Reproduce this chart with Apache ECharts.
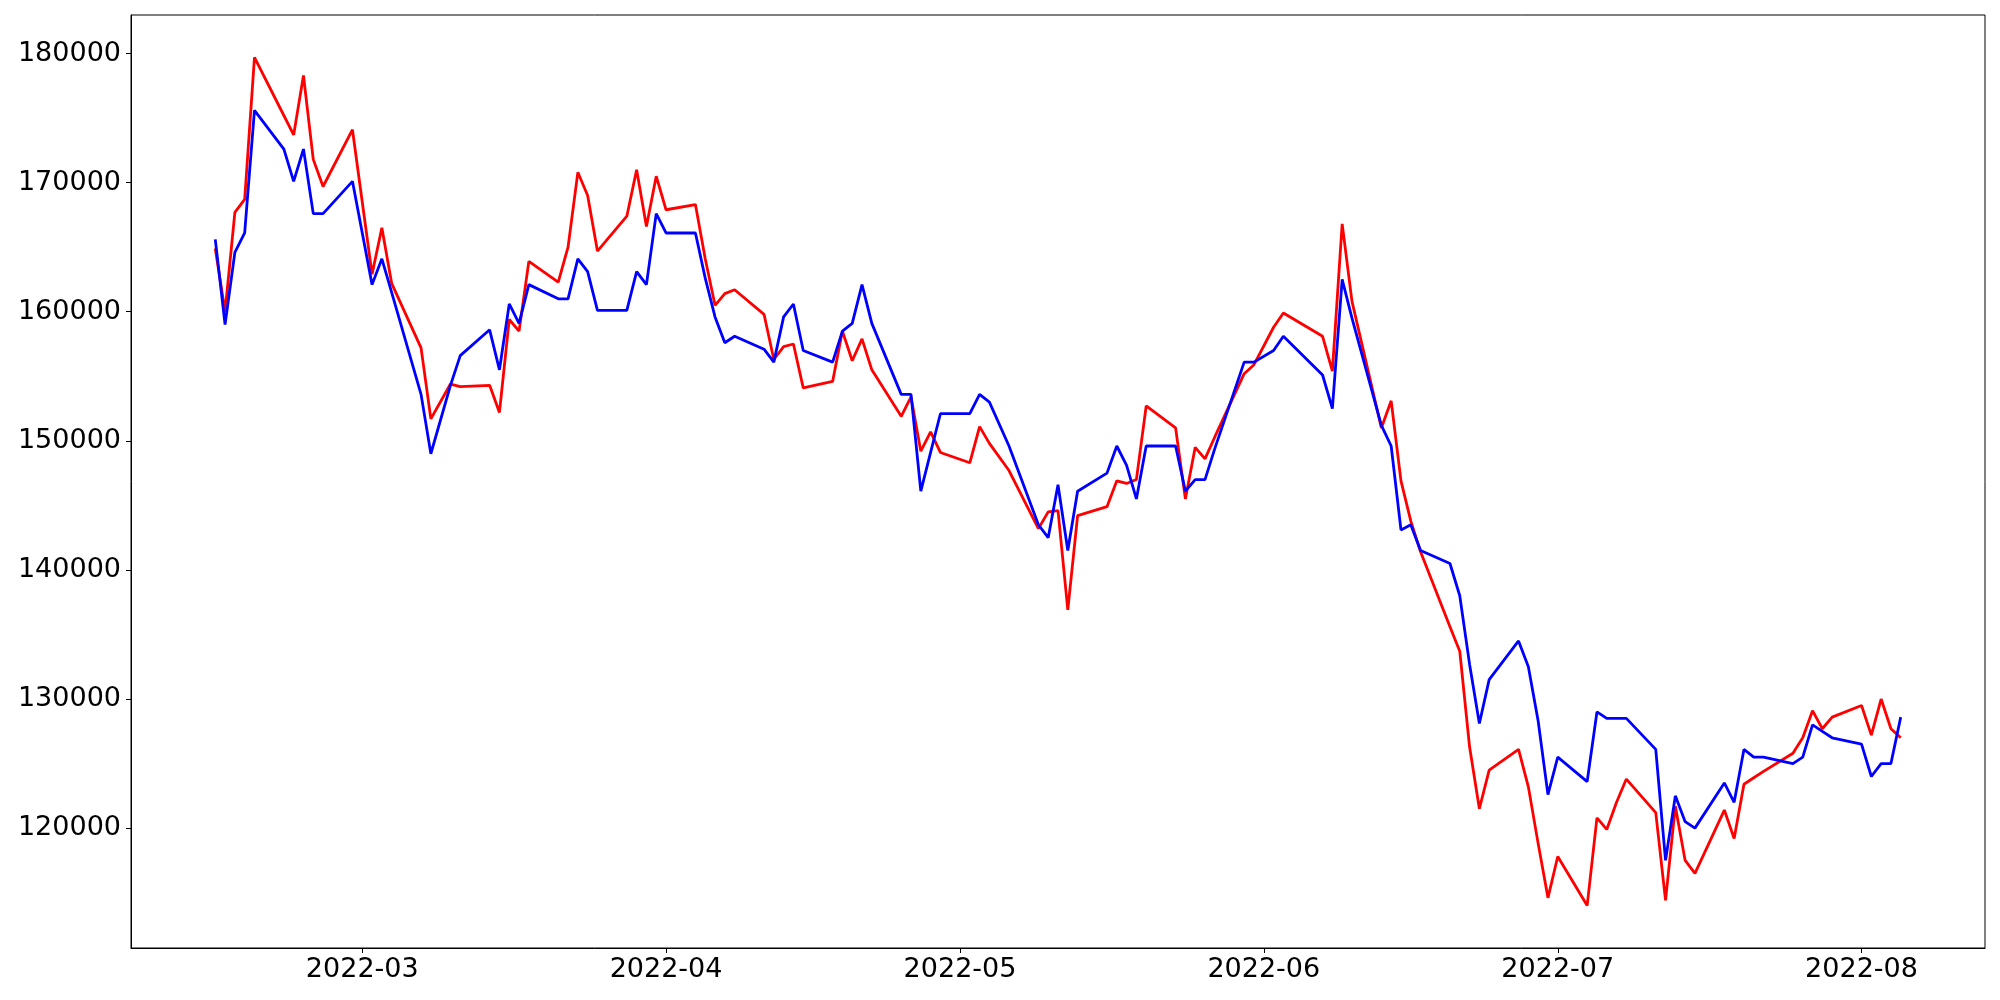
<!DOCTYPE html>
<html><head><meta charset="utf-8">
<script src="https://cdn.jsdelivr.net/npm/echarts@6/dist/echarts.min.js"></script>
<style>html,body{margin:0;padding:0;background:#fff}#c{width:2000px;height:1000px}</style>
</head><body><div id="c"></div>
<script>
const dates = [
'2022-02-14','2022-02-15','2022-02-16','2022-02-17','2022-02-18','2022-02-21','2022-02-22','2022-02-23','2022-02-24','2022-02-25','2022-02-28',
'2022-03-02','2022-03-03','2022-03-04','2022-03-07','2022-03-08','2022-03-10','2022-03-11','2022-03-14','2022-03-15','2022-03-16','2022-03-17','2022-03-18',
'2022-03-21','2022-03-22','2022-03-23','2022-03-24','2022-03-25','2022-03-28','2022-03-29','2022-03-30','2022-03-31',
'2022-04-01','2022-04-04','2022-04-05','2022-04-06','2022-04-07','2022-04-08','2022-04-11','2022-04-12','2022-04-13','2022-04-14','2022-04-15',
'2022-04-18','2022-04-19','2022-04-20','2022-04-21','2022-04-22','2022-04-25','2022-04-26','2022-04-27','2022-04-28','2022-04-29',
'2022-05-02','2022-05-03','2022-05-04','2022-05-06','2022-05-09','2022-05-10','2022-05-11','2022-05-12','2022-05-13','2022-05-16','2022-05-17','2022-05-18','2022-05-19','2022-05-20',
'2022-05-23','2022-05-24','2022-05-25','2022-05-26','2022-05-27','2022-05-30','2022-05-31',
'2022-06-02','2022-06-03','2022-06-07','2022-06-08','2022-06-09','2022-06-10','2022-06-13','2022-06-14','2022-06-15','2022-06-16','2022-06-17',
'2022-06-20','2022-06-21','2022-06-22','2022-06-23','2022-06-24','2022-06-27','2022-06-28','2022-06-29','2022-06-30',
'2022-07-01','2022-07-04','2022-07-05','2022-07-06','2022-07-07','2022-07-08','2022-07-11','2022-07-12','2022-07-13','2022-07-14','2022-07-15',
'2022-07-18','2022-07-19','2022-07-20','2022-07-21','2022-07-22','2022-07-25','2022-07-26','2022-07-27','2022-07-28','2022-07-29',
'2022-08-01','2022-08-02','2022-08-03','2022-08-04','2022-08-05'
];
const redValues = [
164900,160000,167700,168700,179700,175200,173700,178300,171800,169700,174100,
162900,166500,162200,157200,151700,154400,154200,154300,152200,159400,158500,163900,
162300,165000,170800,169000,164700,167400,171000,166600,170500,
167900,168300,164100,160500,161400,161700,159800,156300,157300,157500,154100,
154600,158500,156200,157900,155500,151900,153400,149200,150700,149100,
148300,151100,149800,147700,143200,144500,144600,136900,144200,144900,146900,146700,147000,152700,
151000,145500,149500,148600,150300,155200,155900,
158800,159900,158100,155400,166800,160800,151000,153100,146900,143800,141400,
135600,133700,126300,121500,124500,126100,123200,118800,114600,
117800,114000,120800,119900,122000,123800,121200,114400,121700,117500,116500,
121400,119200,123400,123900,124400,125800,127000,129100,127700,128600,
129500,127200,130000,127700,127000
];
const blueValues = [
165600,159000,164600,166100,175600,172600,170100,172600,167600,167600,170100,
162100,164100,161500,153600,149000,154300,156600,158600,155500,160600,159100,162100,
161000,161000,164100,163100,160100,160100,163100,162100,167600,
166100,166100,162600,159600,157600,158100,157100,156100,159600,160600,157000,
156100,158500,159100,162100,159100,153600,153600,146100,149100,152100,
152100,153600,153000,149600,143500,142500,146600,141500,146100,147500,149600,148100,145500,149600,
149600,146100,147000,147000,149400,156100,156100,
157000,158100,155100,152500,162500,159500,151200,149600,143100,143500,141500,
140500,138000,132700,128100,131500,134500,132500,128300,122600,
125500,123600,129000,128500,128500,128500,126100,117500,122500,120500,120000,
123500,122000,126100,125500,125500,125000,125500,128000,127500,127000,
126500,124000,125000,125000,128600
];

function ts(s){const p=s.split('-').map(Number);return new Date(p[0],p[1]-1,p[2]).getTime();}
const xs = dates.map(ts);
const xMinD = Math.min(...xs), xMaxD = Math.max(...xs), xSpan = xMaxD - xMinD;
const allV = redValues.concat(blueValues);
const yMinD = Math.min(...allV), yMaxD = Math.max(...allV), ySpan = yMaxD - yMinD;

const FONT = 'DejaVu Sans';
const chart = echarts.init(document.getElementById('c'), null, {renderer:'canvas'});
chart.setOption({
  animation:false,
  backgroundColor:'#fff',
  grid:{left:131,right:15,top:15,bottom:52,show:true,borderColor:'#000',borderWidth:1,backgroundColor:'transparent',containLabel:false,outerBoundsMode:'none'},
  xAxis:{
    type:'time',
    min:xMinD-0.05*xSpan, max:xMaxD+0.05*xSpan,
    splitNumber:6,
    minInterval:28*86400000,
    axisLine:{show:true,lineStyle:{color:'#000',width:1}},
    axisTick:{show:true,length:5,lineStyle:{color:'#000',width:1}},
    splitLine:{show:false},
    axisLabel:{
      fontFamily:FONT,fontSize:27,color:'#000',margin:8,hideOverlap:false,
      formatter:function(v){return echarts.time.format(v,'{yyyy}-{MM}',false);}
    }
  },
  yAxis:{
    type:'value',
    min:yMinD-0.05*ySpan, max:yMaxD+0.05*ySpan,
    splitNumber:7,
    axisLine:{show:true,lineStyle:{color:'#000',width:1}},
    axisTick:{show:true,length:5,lineStyle:{color:'#000',width:1}},
    splitLine:{show:false},
    axisLabel:{
      fontFamily:FONT,fontSize:27,color:'#000',margin:10,showMinLabel:false,showMaxLabel:false,
      formatter:function(v){return (Math.round(v)%10000===0)?String(Math.round(v)):'';}
    }
  },
  series:[
    {type:'line',name:'red',data:dates.map((d,i)=>[ts(d),redValues[i]]),showSymbol:false,symbol:'none',
     lineStyle:{color:'#ff0000',width:2.8},itemStyle:{color:'#ff0000'},z:2},
    {type:'line',name:'blue',data:dates.map((d,i)=>[ts(d),blueValues[i]]),showSymbol:false,symbol:'none',
     lineStyle:{color:'#0000ff',width:2.8},itemStyle:{color:'#0000ff'},z:3}
  ]
});
</script></body></html>
